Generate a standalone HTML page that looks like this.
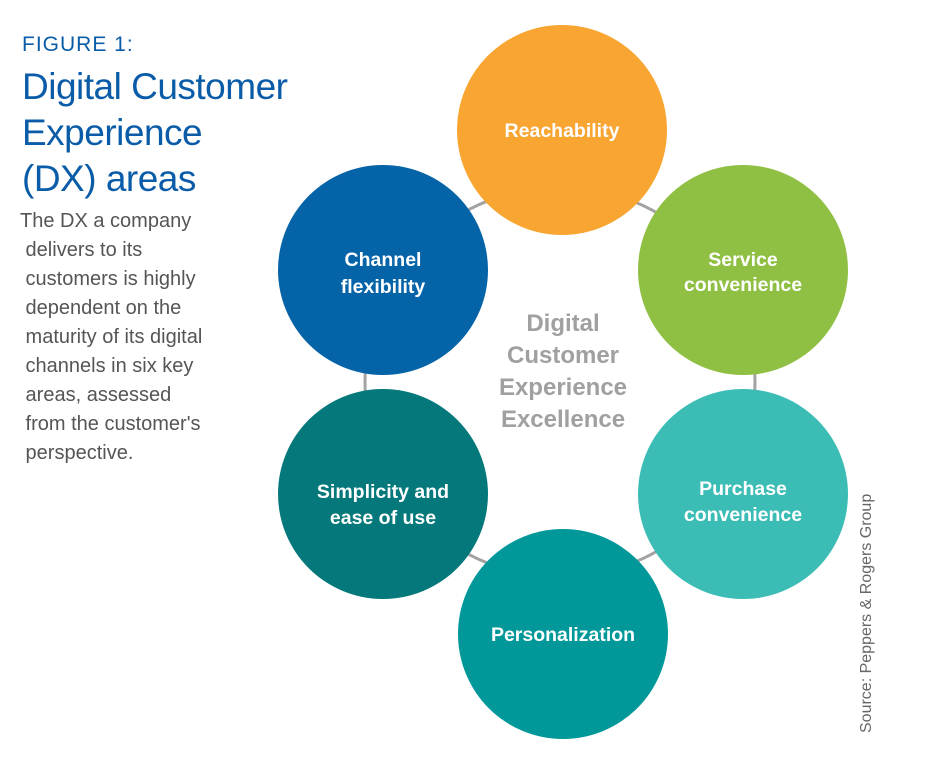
<!DOCTYPE html>
<html><head><meta charset="utf-8"><style>
body{margin:0;width:940px;height:775px;background:#fff;overflow:hidden;font-family:"Liberation Sans",sans-serif;position:relative}
.fig{position:absolute;left:22px;top:33px;font-size:21px;letter-spacing:1px;color:#0a5ca8}
.title{position:absolute;left:22px;top:64px;font-size:37px;line-height:46px;color:#0a5ca8;letter-spacing:-0.5px}
.body{position:absolute;left:20px;top:207px;font-size:20px;line-height:29px;color:#555}
</style></head><body>
<div class="fig">FIGURE 1:</div>
<div class="title">Digital Customer<br>Experience<br>(DX) areas</div>
<div class="body">The DX a company<br>&nbsp;delivers to its<br>&nbsp;customers is highly<br>&nbsp;dependent on the<br>&nbsp;maturity of its digital<br>&nbsp;channels in six key<br>&nbsp;areas, assessed<br>&nbsp;from the customer's<br>&nbsp;perspective.</div>
<svg width="940" height="775" style="position:absolute;left:0;top:0" font-family="Liberation Sans, sans-serif">
<circle cx="560" cy="382" r="195" fill="none" stroke="#a3a3a3" stroke-width="3"/>
<g font-weight="bold" font-size="19.5" fill="#fff" text-anchor="middle">
<circle cx="562" cy="130" r="105" fill="#f8a532"/><text x="562" y="137">Reachability</text>
<circle cx="743" cy="270" r="105" fill="#8fc043"/><text x="743" y="266">Service</text><text x="743" y="291">convenience</text>
<circle cx="743" cy="494" r="105" fill="#3bbdb6"/><text x="743" y="495">Purchase</text><text x="743" y="521">convenience</text>
<circle cx="563" cy="634" r="105" fill="#02989a"/><text x="563" y="641">Personalization</text>
<circle cx="383" cy="494" r="105" fill="#04787a"/><text x="383" y="498">Simplicity and</text><text x="383" y="524">ease of use</text>
<circle cx="383" cy="270" r="105" fill="#0563a8"/><text x="383" y="266">Channel</text><text x="383" y="293">flexibility</text>
</g>
<g font-weight="bold" font-size="24" fill="#a0a0a0" text-anchor="middle">
<text x="563" y="331">Digital</text><text x="563" y="363">Customer</text><text x="563" y="395">Experience</text><text x="563" y="427">Excellence</text>
</g>
<text transform="translate(871,733) rotate(-90)" font-size="16" fill="#666">Source: Peppers &amp; Rogers Group</text>
</svg>
</body></html>
